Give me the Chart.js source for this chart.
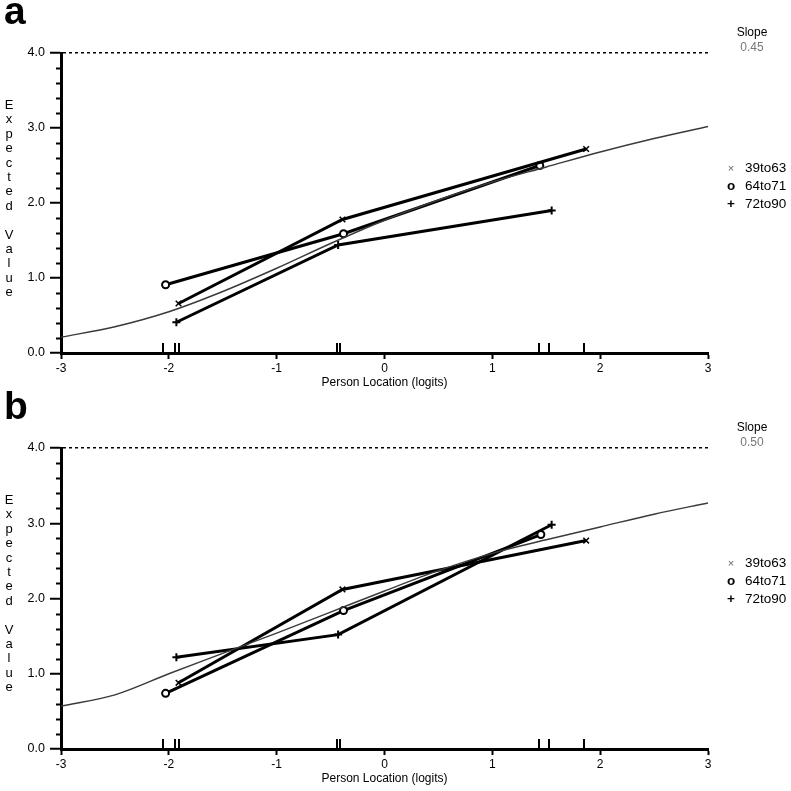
<!DOCTYPE html>
<html>
<head>
<meta charset="utf-8">
<script src="https://cdn.jsdelivr.net/npm/chart.js@4/dist/chart.umd.min.js"></script>
<style>
  html, body { margin:0; padding:0; background:#fff; }
  #wrap { position:relative; width:791px; height:791px; overflow:hidden; font-family:"Liberation Sans", Arial, sans-serif; color:#000; }
  .cv { position:absolute; left:0; }
  .panel { position:absolute; left:4px; font-weight:bold; font-size:39px; line-height:38px; }
  .ytitle { position:absolute; left:1px; width:16px; text-align:center; font-size:13px; line-height:14.4px; }
  .slope { position:absolute; left:722px; width:60px; text-align:center; font-size:12px; line-height:15px; }
  .leg { position:absolute; left:722px; font-size:13.5px; line-height:18px; white-space:nowrap; }
  .leg .mk { display:inline-block; width:18px; margin-right:5px; text-align:center; }
</style>
</head>
<body>
<div id="wrap">
  <canvas id="cA" class="cv" width="791" height="395" style="top:0px"></canvas>
  <canvas id="cB" class="cv" width="791" height="396" style="top:395px"></canvas>
</div>
<script>
// ---------- DATA ----------
const panelLabels = ["a", "b"];
const slopeValues = ["0.45", "0.50"];
const seriesNames = ["39to63", "64to71", "72to90"];
const xTickValues = [-3, -2, -1, 0, 1, 2, 3];
const yTickValues = [0, 1, 2, 3, 4];

// person locations (rug marks on the x axis)
const personLoc = [-2.05, -1.94, -1.91, -0.44, -0.41, 1.43, 1.53, 1.85];

// expected value curve, panel a
const curveX = [-3, -2.5, -2, -1.5, -1, -0.5, 0, 0.5, 1, 1.5, 2, 2.5, 3];
const curveYA = [0.21, 0.35, 0.55, 0.82, 1.13, 1.46, 1.77, 2.04, 2.28, 2.48, 2.68, 2.86, 3.02];
// expected value curve, panel b
const curveYB = [0.57, 0.72, 1.00, 1.27, 1.54, 1.82, 2.10, 2.37, 2.60, 2.78, 2.95, 3.12, 3.27];

// class interval observed means, panel a
const a_39to63_x = [-1.91, -0.39, 1.87];
const a_39to63_y = [0.66, 1.78, 2.72];
const a_64to71_x = [-2.03, -0.38, 1.44];
const a_64to71_y = [0.91, 1.59, 2.50];
const a_72to90_x = [-1.93, -0.43, 1.55];
const a_72to90_y = [0.41, 1.44, 1.90];

// class interval observed means, panel b
const b_39to63_x = [-1.91, -0.39, 1.87];
const b_39to63_y = [0.88, 2.12, 2.77];
const b_64to71_x = [-2.03, -0.38, 1.45];
const b_64to71_y = [0.74, 1.84, 2.85];
const b_72to90_x = [-1.93, -0.43, 1.55];
const b_72to90_y = [1.22, 1.52, 2.98];

// ---------- BUILD ----------
const zip = (xs, ys) => xs.map((x, i) => ({x: x, y: ys[i]}));
const markerStyles = ["crossRot", "circle", "cross"];
const markerGlyph = ["\u00d7", "o", "+"];

const extrasPlugin = {
  id: "axisExtras",
  afterDraw(chart, args, opts) {
    const ctx = chart.ctx;
    const xs = chart.scales.x, ys = chart.scales.y;
    const left = chart.chartArea.left, bottom = chart.chartArea.bottom;
    ctx.save();
    ctx.strokeStyle = "#000";
    ctx.lineWidth = 2;
    for (let k = 1; k < 20; k++) {
      if (k % 5 === 0) continue;
      const py = Math.round(ys.getPixelForValue(k * 0.2)) + 0.5;
      ctx.beginPath(); ctx.moveTo(left - 5, py); ctx.lineTo(left, py); ctx.stroke();
    }
    (opts.rug || []).forEach(v => {
      const px = Math.round(xs.getPixelForValue(v));
      ctx.beginPath(); ctx.moveTo(px, bottom); ctx.lineTo(px, bottom - 10); ctx.stroke();
    });
    ctx.restore();
  }
};

function makeChart(canvasId, curveY, groups) {
  const datasets = groups.map((g, i) => ({
    label: seriesNames[i],
    data: zip(g[0], g[1]),
    showLine: true,
    borderColor: "#000",
    borderWidth: 3,
    pointStyle: markerStyles[i],
    pointRadius: i === 1 ? 3.5 : 4,
    pointBorderWidth: i === 0 ? 1.5 : 2,
    pointBorderColor: "#000",
    pointBackgroundColor: "#fff",
    order: 2
  }));
  datasets.push({
    label: "expected",
    data: zip(curveX, curveY),
    showLine: true,
    borderColor: "#3a3a3a",
    borderWidth: 1.4,
    pointRadius: 0,
    cubicInterpolationMode: "monotone",
    order: 1
  });
  return new Chart(document.getElementById(canvasId), {
    type: "scatter",
    data: { datasets },
    plugins: [extrasPlugin],
    options: {
      responsive: false,
      animation: false,
      devicePixelRatio: 1,
      layout: { padding: { top: 53, right: 83, left: 0, bottom: 0 } },
      plugins: {
        legend: { display: false },
        tooltip: { enabled: false },
        axisExtras: { rug: personLoc }
      },
      scales: {
        x: {
          type: "linear",
          min: xTickValues[0], max: xTickValues[xTickValues.length - 1],
          afterBuildTicks: s => { s.ticks = xTickValues.map(v => ({value: v})); },
          afterFit: s => { s.height = 42; },
          ticks: { color: "#000", font: { family: "Liberation Sans", size: 12 }, padding: 2, maxRotation: 0, callback: v => String(v) },
          grid: { drawOnChartArea: false, drawTicks: true, tickLength: 6, tickColor: "#000", tickWidth: 2 },
          border: { display: true, color: "#000", width: 3 },
          title: { display: true, text: "Person Location (logits)", color: "#000", font: { family: "Liberation Sans", size: 12 }, padding: { top: 0, bottom: 5 } }
        },
        y: {
          type: "linear",
          min: yTickValues[0], max: yTickValues[yTickValues.length - 1],
          afterBuildTicks: s => { s.ticks = yTickValues.map(v => ({value: v})); },
          afterFit: s => { s.width = 61; },
          ticks: { color: "#000", font: { family: "Liberation Sans", size: 12.5 }, padding: 5, callback: v => Number(v).toFixed(1) },
          grid: {
            drawOnChartArea: true,
            color: c => (c.tick && c.tick.value === 4) ? "#000" : "rgba(0,0,0,0)",
            lineWidth: 1.5,
            tickLength: 11, tickColor: "#000", tickWidth: 2
          },
          border: { display: true, color: "#000", width: 3, dash: [3, 3] }
        }
      }
    }
  });
}

makeChart("cA", curveYA, [[a_39to63_x, a_39to63_y], [a_64to71_x, a_64to71_y], [a_72to90_x, a_72to90_y]]);
makeChart("cB", curveYB, [[b_39to63_x, b_39to63_y], [b_64to71_x, b_64to71_y], [b_72to90_x, b_72to90_y]]);

// ---------- TEXT ----------
const wrap = document.getElementById("wrap");
function addDiv(cls, top, html, extra) {
  const d = document.createElement("div");
  d.className = cls;
  d.style.top = top + "px";
  d.innerHTML = html;
  if (extra) Object.assign(d.style, extra);
  wrap.appendChild(d);
  return d;
}
const yTitle = "Expected Value";
[0, 395].forEach((off, p) => {
  addDiv("panel", off - 8, panelLabels[p]);
  addDiv("ytitle", off + 98, yTitle.split("").map(ch => ch === " " ? "&nbsp;" : ch).join("<br>"));
  addDiv("slope", off + 25, "Slope");
  addDiv("slope", off + 40, slopeValues[p], { color: "#777" });
  seriesNames.forEach((nm, i) => {
    const mk = i === 0 ? '<span class="mk" style="color:#666;font-size:11px">' + markerGlyph[i] + '</span>'
                       : '<span class="mk" style="font-weight:bold">' + markerGlyph[i] + '</span>';
    addDiv("leg", off + 159 + i * 18, mk + nm);
  });
});
</script>
</body>
</html>
